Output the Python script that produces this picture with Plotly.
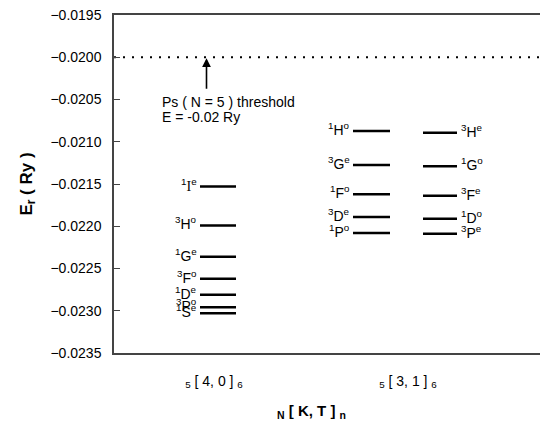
import plotly.graph_objects as go

# ---- data ----
col40_terms = [("1", "I", "e"), ("3", "H", "o"), ("1", "G", "e"), ("3", "F", "o"),
               ("1", "D", "e"), ("3", "P", "o"), ("1", "S", "e")]
col40_E = [-0.021530, -0.021990, -0.022360, -0.022620, -0.022810, -0.022960, -0.023030]

col31a_terms = [("1", "H", "o"), ("3", "G", "e"), ("1", "F", "o"), ("3", "D", "e"), ("1", "P", "o")]
col31a_E = [-0.020873, -0.021275, -0.021620, -0.021890, -0.022080]

col31b_terms = [("3", "H", "e"), ("1", "G", "o"), ("3", "F", "e"), ("1", "D", "o"), ("3", "P", "e")]
col31b_E = [-0.020893, -0.021290, -0.021640, -0.021910, -0.022090]

threshold_E = -0.0200
y_ticks = [-0.0195, -0.0200, -0.0205, -0.0210, -0.0215, -0.0220, -0.0225, -0.0230, -0.0235]
cat_labels = ["<sub>5</sub> [ 4, 0 ] <sub>6</sub>", "<sub>5</sub> [ 3, 1 ] <sub>6</sub>"]

FONT = "Liberation Sans, Arial, sans-serif"

def term(t):
    m, L, p = t
    if L == "I":
        L = '<span style="font-family:Liberation Serif">I</span>'
    return f"<sup>{m}</sup>{L}<sup>{p}</sup>"

fig = go.Figure()

annotations = []

def add_col(terms, E, x0, x1, side, lx):
    for t, e in zip(terms, E):
        fig.add_trace(go.Scatter(x=[x0, x1], y=[e, e], mode="lines",
                                 line=dict(color="black", width=2.5),
                                 hoverinfo="skip", showlegend=False))
        annotations.append(dict(x=lx, y=e, xref="x", yref="y", text=term(t),
                                showarrow=False, xanchor=side, yanchor="middle",
                                yshift=2, font=dict(family=FONT, size=14, color="black")))

add_col(col40_terms, col40_E, 200, 236, "right", 199)
add_col(col31a_terms, col31a_E, 353, 390, "right", 352)
add_col(col31b_terms, col31b_E, 423, 457, "left", 459)

# threshold dotted line
fig.add_trace(go.Scatter(x=[114, 540], y=[threshold_E, threshold_E], mode="lines",
                         line=dict(color="black", width=2, dash="2px,7px"),
                         hoverinfo="skip", showlegend=False))

annotations.append(dict(x=206.5, y=threshold_E, xref="x", yref="y", ax=0, ay=33,
                        showarrow=True, arrowhead=2, arrowsize=1.1, arrowwidth=1.6,
                        standoff=1, arrowcolor="black", text=""))
annotations.append(dict(x=160, y=-0.020530, xref="x", yref="y", showarrow=False,
                        xanchor="left", yanchor="middle", align="left",
                        text="Ps ( N = 5 ) threshold",
                        font=dict(family=FONT, size=14, color="black")))
annotations.append(dict(x=160, y=-0.020707, xref="x", yref="y", showarrow=False,
                        xanchor="left", yanchor="middle", align="left",
                        text="E = -0.02 Ry",
                        font=dict(family=FONT, size=14, color="black")))

# x axis title
annotations.append(dict(x=311, y=-0.0235, xref="x", yref="y", yshift=-58, showarrow=False,
                        xanchor="center", yanchor="middle",
                        text="<b><sub>N</sub> [ K, T ] <sub>n</sub></b>",
                        font=dict(family=FONT, size=15, color="black")))

fig.update_layout(
    width=540, height=425,
    margin=dict(l=114, r=0, t=15, b=72),
    plot_bgcolor="white", paper_bgcolor="white",
    annotations=annotations,
    font=dict(family=FONT, color="black"),
    xaxis=dict(range=[114, 540], showgrid=False, zeroline=False,
               showline=True, mirror=True, linecolor="#444", linewidth=1.5,
               tickvals=[214, 408], ticktext=cat_labels, ticks="",
               ticklabelstandoff=14,
               tickfont=dict(family=FONT, size=14, color="black")),
    yaxis=dict(range=[-0.0235, -0.0195], showgrid=False, zeroline=False,
               showline=True, linecolor="#444", linewidth=1.5,
               tickvals=y_ticks, tickformat=".4f", ticks="inside", ticklen=6,
               tickcolor="#444", ticklabelstandoff=8,
               tickfont=dict(family=FONT, size=14, color="black"),
               title=dict(text="<b>E<sub>r</sub> ( Ry )</b>", standoff=14,
                          font=dict(family=FONT, size=17, color="black"))),
)

fig.write_html("out.html")
